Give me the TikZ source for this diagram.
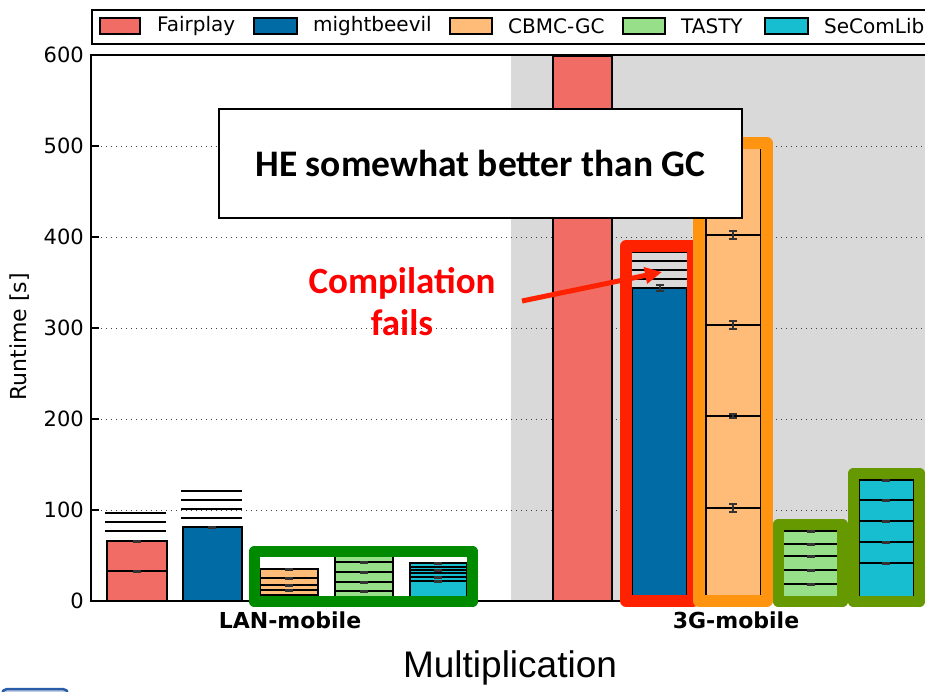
\documentclass[tikz,border=0pt]{standalone}
\usepackage{fontspec}
\setmainfont{DejaVu Sans}
\newfontfamily\calfont{Carlito}
\newfontfamily\arialfont{Liberation Sans}
\usetikzlibrary{arrows.meta}
\definecolor{cfair}{HTML}{F06C64}
\definecolor{cmight}{HTML}{006BA4}
\definecolor{ccbmc}{HTML}{FFBC79}
\definecolor{ctasty}{HTML}{98DF8A}
\definecolor{csecom}{HTML}{17BECF}
\definecolor{cbg}{HTML}{D9D9D9}
\definecolor{cgreen}{HTML}{008A00}
\definecolor{colive}{HTML}{669900}
\definecolor{cred}{HTML}{FF2200}
\definecolor{corange}{HTML}{FF9410}
\definecolor{cerr}{HTML}{333333}
\definecolor{ctxtred}{HTML}{FF0000}
\definecolor{cfrag}{HTML}{2A5CA8}
\newcommand\errcap[2]{\draw[cerr,line width=3pt] (#1-4,#2)--(#1+4,#2);}
\newcommand\errI[3]{\draw[cerr,line width=1.5pt] (#1-4,#2-#3)--(#1+4,#2-#3) (#1,#2-#3)--(#1,#2+#3) (#1-4,#2+#3)--(#1+4,#2+#3);}
\begin{document}
\begin{tikzpicture}[x=1pt,y=-1pt,
  barline/.style={draw=black,line width=1.6pt},
  gridline/.style={line width=1pt,dash pattern=on 1pt off 4pt,black!75},
  hl/.style={black,line width=1.8pt},
  axisline/.style={black,line width=1.8pt},
  frame/.style={line width=11.5pt,line join=round},
  ticklbl/.style={anchor=east,font=\fontsize{21}{21}\selectfont,inner sep=0pt},
  legtxt/.style={anchor=west,font=\fontsize{20}{20}\selectfont,inner sep=0pt},
  legpatch/.style={draw=black,line width=1.5pt},
  grplbl/.style={font=\fontsize{22}{22}\selectfont\bfseries,inner sep=0pt}]
\useasboundingbox (0,0) rectangle (925,691);
\begin{scope}
\clip (0,0) rectangle (925,691);
% background of 3G half
\fill[cbg] (511,55) rectangle (930,601);
% grid
\foreach \gy in {146,237,328,419,510} {\draw[gridline] (91,\gy) -- (925,\gy);}
% ---------- LAN-mobile bars
\filldraw[fill=cfair,barline] (107,541) rectangle (167,601);
\draw[hl] (107,571) -- (167,571);
\foreach \gy in {513,522,531} {\draw[hl] (105,\gy) -- (166,\gy);}
\errcap{137}{541}\errcap{137}{571}
\filldraw[fill=cmight,barline] (183,527) rectangle (242,601);
\foreach \gy in {491,500,509,518} {\draw[hl] (181,\gy) -- (242,\gy);}
\errcap{212}{527}
\filldraw[fill=ccbmc,barline] (260,569) rectangle (318,601);
\foreach \gy in {578,585,590,595} {\draw[hl] (260,\gy) -- (318,\gy);}
\errcap{289}{569}\errcap{289}{578}\errcap{289}{585}\errcap{289}{590}
\filldraw[fill=ctasty,barline] (335,555) rectangle (393,601);
\foreach \gy in {562,572,582,591} {\draw[hl] (335,\gy) -- (393,\gy);}
\errcap{364}{562}\errcap{364}{572}\errcap{364}{582}\errcap{364}{591}
\filldraw[fill=csecom,barline] (410,563) rectangle (467,601);
\foreach \gy in {567,570,573,577,581} {\draw[black,line width=1.4pt] (410,\gy) -- (467,\gy);}
\errcap{438}{563}\errcap{438}{570}\errcap{438}{577}\errcap{438}{581}
% ---------- 3G-mobile bars
\filldraw[fill=cfair,barline] (553,56) rectangle (612,601);
\filldraw[fill=cmight,barline] (632,288) rectangle (687,601);
\foreach \gy in {252,261,270,279} {\draw[hl] (632,\gy) -- (687,\gy);}
\errI{660}{288}{3}
\filldraw[fill=ccbmc,barline] (706,147) rectangle (761,601);
\foreach \gy in {235,325,416,508} {\draw[hl] (706,\gy) -- (761,\gy);}
\errI{733}{235}{4}\errI{733}{325}{4}\errI{733}{416}{2}\errI{733}{508}{4}
\filldraw[fill=ctasty,barline] (783,531) rectangle (839,601);
\foreach \gy in {544,556,570,584} {\draw[hl] (783,\gy) -- (839,\gy);}
\errcap{811}{531}\errcap{811}{544}\errcap{811}{556}\errcap{811}{570}\errcap{811}{584}
\filldraw[fill=csecom,barline] (859,480) rectangle (914,601);
\foreach \gy in {500,521,542,563} {\draw[hl] (859,\gy) -- (914,\gy);}
\errcap{886}{480}\errcap{886}{500}\errcap{886}{521}\errcap{886}{542}\errcap{886}{563}
% ---------- axes
\draw[axisline] (91,55) -- (930,55);
\draw[axisline] (91,54) -- (91,602);
\draw[axisline] (91,601) -- (930,601);
\foreach \gy/\lab in {55/600,146/500,237/400,328/300,419/200,510/100,601/0} {
  \draw[black,line width=1.2pt] (91,\gy) -- (99,\gy);
  \node[ticklbl] (t\lab) at (84,\gy) {\lab};
}
\node[rotate=90,font=\fontsize{22}{22}\selectfont,inner sep=0pt] (ylab) at (20,337) {Runtime [s]};
% ---------- highlight frames
\draw[cgreen,frame] (254.5,551.5) rectangle (472.5,601.5);
\draw[cred,frame] (626,246) rectangle (693,601);
\draw[corange,frame] (699,143) rectangle (767,601);
\draw[colive,frame] (778.5,524.5) rectangle (842.5,601.5);
\draw[colive,frame] (853.5,473.5) rectangle (919.5,601.5);
% ---------- group labels
\node[grplbl] (lan) at (290,620) {LAN-mobile};
\node[grplbl] (g3) at (736,620) {3G-mobile};
\node[font=\arialfont\fontsize{37}{37}\selectfont,inner sep=0pt] (xlab) at (510,668) {Multiplication};
% ---------- legend
\draw[black,line width=1.6pt,fill=white] (92,10) rectangle (940,44);
\filldraw[fill=cfair,legpatch] (100,18) rectangle (140,34);
\node[legtxt] (lfair) at (157,26) {Fairplay};
\filldraw[fill=cmight,legpatch] (254,18) rectangle (297,34);
\node[legtxt] (lmight) at (313,26) {mightbeevil};
\filldraw[fill=ccbmc,legpatch] (450,18) rectangle (492,34);
\node[legtxt] (lcbmc) at (508,26) {CBMC-GC};
\filldraw[fill=ctasty,legpatch] (623,18) rectangle (665,34);
\node[legtxt] (ltasty) at (681,26) {TASTY};
\filldraw[fill=csecom,legpatch] (765,18) rectangle (808,34);
\node[legtxt] (lsecom) at (824,26) {SeComLib};
% ---------- annotations
\node[draw=black,fill=white,line width=2pt,minimum width=523pt,minimum height=109pt,inner sep=0pt,
  font=\calfont\bfseries\fontsize{37.5}{37.5}\selectfont] (he) at (480.5,163.5) {HE somewhat better than GC};
\node[align=center,text=ctxtred,inner sep=0pt,font=\calfont\bfseries\fontsize{37}{42}\selectfont] (fails) at (402,302) {Compilation\\fails};
\coordinate (atail) at (522,301);
\coordinate (ahead) at (662,272);
\draw[cred,line width=5pt,-{Triangle[length=17pt,width=16pt]}] (atail) -- (ahead);
% fragment at bottom left
\draw[cfrag,line width=2.5pt,fill=cfrag!30,rounded corners=5pt] (2,689) rectangle (68,720);
\end{scope}
\end{tikzpicture}
\end{document}
